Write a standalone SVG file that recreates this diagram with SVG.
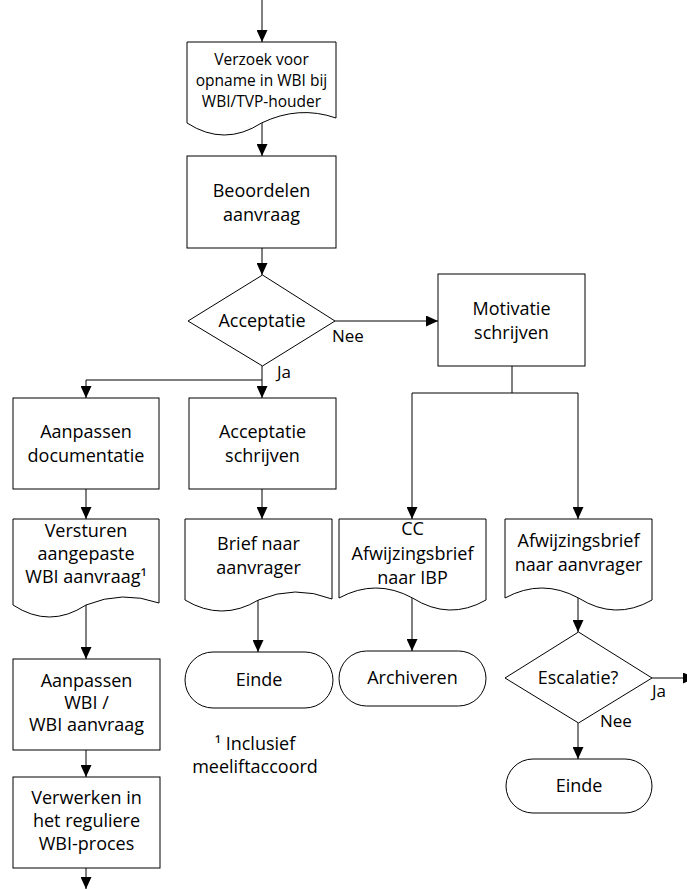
<svg xmlns="http://www.w3.org/2000/svg" width="687" height="889" viewBox="0 0 687 889">
<defs>
<marker id="arr" viewBox="0 0 12 11" refX="12" refY="5.5" markerWidth="12" markerHeight="11" orient="auto" markerUnits="userSpaceOnUse">
<path d="M0,0 L12,5.5 L0,11 Z" fill="#000"/>
</marker>
<style>
.s{fill:#fff;stroke:#000;stroke-width:1}
.t{font-family:"Open Sans","Noto Sans",sans-serif;font-size:18px;fill:#000;text-anchor:middle}
.sm{font-size:15.5px}
.lb{font-family:"Open Sans","Noto Sans",sans-serif;font-size:17px;fill:#000}
.c{fill:none;stroke:#000;stroke-width:1}
.a{marker-end:url(#arr)}
</style>
</defs>
<rect width="687" height="889" fill="#fff"/>

<g id="connectors">
<line class="c a" x1="262" y1="0" x2="262" y2="42"/>
<line class="c a" x1="262" y1="123" x2="262" y2="156"/>
<line class="c a" x1="262" y1="248" x2="262" y2="275"/>
<line class="c a" x1="335" y1="321" x2="438" y2="321"/>
<polyline class="c a" points="262,366 262,398"/>
<polyline class="c a" points="262,380 86,380 86,398"/>
<line class="c a" x1="86" y1="489" x2="86" y2="519"/>
<line class="c a" x1="262" y1="489" x2="262" y2="519"/>
<polyline class="c" points="512,366 512,393"/>
<polyline class="c a" points="412,393 412,519"/>
<polyline class="c a" points="412,393 578,393 578,519"/>
<line class="c a" x1="86" y1="605" x2="86" y2="659"/>
<line class="c a" x1="258" y1="600" x2="258" y2="652"/>
<line class="c a" x1="412" y1="598" x2="412" y2="651"/>
<line class="c a" x1="578" y1="598" x2="578" y2="632"/>
<line class="c a" x1="86" y1="750" x2="86" y2="777"/>
<line class="c a" x1="86" y1="868" x2="86" y2="889"/>
<line class="c a" x1="578" y1="723" x2="578" y2="759"/>
<line class="c a" x1="652" y1="678" x2="695" y2="678"/>
<text class="lb" x="332" y="342">Nee</text>
<text class="lb" x="277" y="378">Ja</text>
<text class="lb" x="652" y="697">Ja</text>
<text class="lb" x="600" y="727">Nee</text>
</g>

<g id="verzoek">
<path class="s" d="M187,42 H336 V118 Q298.75,105 261.5,123 Q224.25,147 187,123 Z"/>
<text class="t sm" x="261.5" y="65">Verzoek voor</text>
<text class="t sm" x="261.5" y="86">opname in WBI bij</text>
<text class="t sm" x="261.5" y="107">WBI/TVP-houder</text>
</g>

<g id="beoordelen">
<rect class="s" x="187" y="156" width="149" height="92"/>
<text class="t" x="261.5" y="197">Beoordelen</text>
<text class="t" x="261.5" y="221">aanvraag</text>
</g>

<g id="acceptatie">
<polygon class="s" points="262.5,275 335,321 262.5,366 188,321"/>
<text class="t" x="262" y="327">Acceptatie</text>
</g>

<g id="motivatie">
<rect class="s" x="438" y="274" width="147" height="92"/>
<text class="t" x="511.5" y="315">Motivatie</text>
<text class="t" x="511.5" y="339">schrijven</text>
</g>

<g id="aanpassen-doc">
<rect class="s" x="13" y="398" width="146" height="91"/>
<text class="t" x="86" y="438">Aanpassen</text>
<text class="t" x="86" y="462">documentatie</text>
</g>

<g id="acceptatie-schrijven">
<rect class="s" x="189" y="398" width="147" height="91"/>
<text class="t" x="262.5" y="438">Acceptatie</text>
<text class="t" x="262.5" y="462">schrijven</text>
</g>

<g id="versturen">
<path class="s" d="M13,519 H159 V603 Q122.5,590 86,605 Q49.5,629 13,605 Z"/>
<text class="t" x="86" y="537">Versturen</text>
<text class="t" x="86" y="560">aangepaste</text>
<text class="t" x="86" y="583">WBI aanvraag¹</text>
</g>

<g id="brief">
<path class="s" d="M185,519 H332 V599 Q295.25,584.5 258.5,600 Q221.75,622 185,600 Z"/>
<text class="t" x="258.5" y="550">Brief naar</text>
<text class="t" x="258.5" y="574">aanvrager</text>
</g>

<g id="cc-afwijzing">
<path class="s" d="M339,519 H486 V600 Q449.25,621 412.5,598 Q375.75,578 339,598 Z"/>
<text class="t" x="412.5" y="535">CC</text>
<text class="t" x="412.5" y="560">Afwijzingsbrief</text>
<text class="t" x="412.5" y="584">naar IBP</text>
</g>

<g id="afwijzing">
<path class="s" d="M505,519 H652 V600 Q615.25,621 578.5,598 Q541.75,578 505,598 Z"/>
<text class="t" x="578.5" y="547">Afwijzingsbrief</text>
<text class="t" x="578.5" y="571">naar aanvrager</text>
</g>

<g id="aanpassen-wbi">
<rect class="s" x="13" y="659" width="147" height="91"/>
<text class="t" x="86.5" y="687">Aanpassen</text>
<text class="t" x="86.5" y="709">WBI /</text>
<text class="t" x="86.5" y="731">WBI aanvraag</text>
</g>

<g id="verwerken">
<rect class="s" x="13" y="777" width="147" height="91"/>
<text class="t" x="86.5" y="804">Verwerken in</text>
<text class="t" x="86.5" y="827">het reguliere</text>
<text class="t" x="86.5" y="850">WBI-proces</text>
</g>

<g id="einde-1">
<rect class="s" x="185" y="652" width="148" height="56" rx="28" ry="28"/>
<text class="t" x="259" y="686">Einde</text>
</g>

<g id="archiveren">
<rect class="s" x="339" y="651" width="147" height="55" rx="27.5" ry="27.5"/>
<text class="t" x="412.5" y="684">Archiveren</text>
</g>

<g id="footnote">
<text class="t" x="255" y="750">¹ Inclusief</text>
<text class="t" x="255" y="773">meeliftaccoord</text>
</g>

<g id="escalatie">
<polygon class="s" points="578.5,632 652,678 578.5,723 505,678"/>
<text class="t" x="578" y="684">Escalatie?</text>
</g>

<g id="einde-2">
<rect class="s" x="506" y="759" width="146" height="54" rx="27" ry="27"/>
<text class="t" x="579" y="792">Einde</text>
</g>
</svg>
